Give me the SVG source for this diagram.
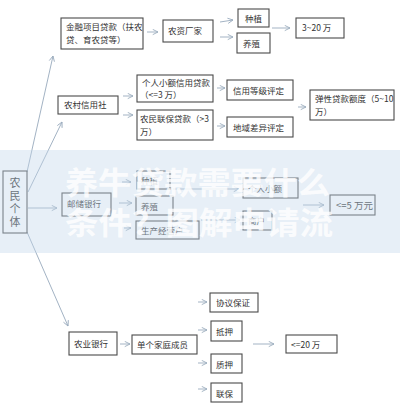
<svg xmlns="http://www.w3.org/2000/svg" width="400" height="404" viewBox="0 0 400 404">
<defs>
<marker id="ah" viewBox="0 0 8 8" refX="7" refY="4" markerWidth="7" markerHeight="7" markerUnits="userSpaceOnUse" orient="auto">
<path d="M1,1 L7,4 L1,7" fill="none" stroke="#9aabbd" stroke-width="1"/>
</marker>
</defs>
<style>
.n rect{fill:#fff;stroke:#4a4a4a;stroke-width:1.1}
.n text{font-family:"Noto Sans CJK SC","Liberation Sans",sans-serif;font-size:8.5px;fill:#333}
.c line{stroke:#a3b3c4;stroke-width:1;fill:none;marker-end:url(#ah)}
.wm{font-family:"Noto Sans CJK SC",sans-serif;font-weight:bold;font-size:31px;fill:#fff;opacity:0.8}
</style>
<rect width="400" height="404" fill="#fff"/>
<g class="c">
<line x1="27" y1="172" x2="53" y2="56"/>
<line x1="28" y1="192" x2="62" y2="122"/>
<line x1="28" y1="208" x2="57" y2="208"/>
<line x1="27" y1="232" x2="68" y2="326"/>
<line x1="147" y1="32" x2="158" y2="32"/>
<line x1="220" y1="22" x2="233" y2="20"/>
<line x1="220" y1="37" x2="233" y2="37"/>
<line x1="272" y1="28" x2="290" y2="28"/>
<line x1="123" y1="96" x2="133" y2="96"/>
<line x1="123" y1="115" x2="133" y2="115"/>
<line x1="217" y1="88" x2="225" y2="88"/>
<line x1="217" y1="126" x2="225" y2="126"/>
<line x1="298" y1="107" x2="306" y2="107"/>
<line x1="122" y1="182" x2="131" y2="182"/>
<line x1="119" y1="203" x2="132" y2="203"/>
<line x1="124" y1="228" x2="131" y2="228"/>
<line x1="173" y1="189" x2="239" y2="189"/>
<line x1="201" y1="220" x2="240" y2="220"/>
<line x1="303" y1="205" x2="324" y2="205"/>
<line x1="120" y1="344" x2="130" y2="344"/>
<line x1="198" y1="302" x2="207" y2="302"/>
<line x1="198" y1="330" x2="207" y2="330"/>
<line x1="198" y1="363" x2="207" y2="363"/>
<line x1="198" y1="389" x2="207" y2="389"/>
<line x1="253" y1="344" x2="274" y2="344"/>
</g>
<g id="n-farmer" class="n"><rect x="3" y="171" width="24" height="62"/>
<text x="15" y="187" text-anchor="middle" style="font-size:11px">农</text>
<text x="15" y="200" text-anchor="middle" style="font-size:11px">民</text>
<text x="15" y="213" text-anchor="middle" style="font-size:11px">个</text>
<text x="15" y="226" text-anchor="middle" style="font-size:11px">体</text></g>
<g id="n-jinrong" class="n"><rect x="61" y="18" width="82" height="31"/><text x="66" y="30">金融项目贷款（扶农</text><text x="66" y="43">贷、育农贷等）</text></g>
<g id="n-nongzi" class="n"><rect x="163" y="20" width="50" height="22"/><text x="168" y="34">农资厂家</text></g>
<g id="n-zhongzhi" class="n"><rect x="238" y="9" width="31" height="18"/><text x="245" y="22">种植</text></g>
<g id="n-yangzhi" class="n"><rect x="237" y="33" width="33" height="20"/><text x="243" y="47">养殖</text></g>
<g id="n-3-20" class="n"><rect x="296" y="18" width="48" height="20"/><text x="302" y="31">3~20 万</text></g>
<g id="n-xinyongshe" class="n"><rect x="58" y="96" width="60" height="18"/><text x="64" y="108">农村信用社</text></g>
<g id="n-geren" class="n"><rect x="137" y="75" width="76" height="27"/><text x="142" y="86">个人小额信用贷款</text><text x="140" y="98">（&lt;=3 万）</text></g>
<g id="n-lianbao" class="n"><rect x="137" y="110" width="76" height="30"/><text x="140" y="122">农民联保贷款（&gt;3</text><text x="140" y="135">万）</text></g>
<g id="n-xinyongdengji" class="n"><rect x="227" y="80" width="66" height="20"/><text x="233" y="94">信用等级评定</text></g>
<g id="n-diyu" class="n"><rect x="227" y="117" width="66" height="20"/><text x="233" y="131">地域差异评定</text></g>
<g id="n-tanxing" class="n"><rect x="310" y="90" width="84" height="30"/><text x="315" y="102">弹性贷款额度（5~10</text><text x="315" y="115">万）</text></g>
<g id="n-youchu" class="n"><rect x="62" y="193" width="49" height="23"/><text x="67" y="207">邮储银行</text></g>
<g id="n-yc-zhongzhi" class="n"><rect x="137" y="171" width="33" height="18"/><text x="141" y="184">种植</text></g>
<g id="n-yc-yangzhi" class="n"><rect x="136" y="196" width="37" height="19"/><text x="141" y="210">养殖</text></g>
<g id="n-yc-shengchan" class="n"><rect x="136" y="221" width="63" height="18"/><text x="141" y="234">生产经营户</text></g>
<g id="n-yc-geren" class="n"><rect x="243" y="178" width="55" height="20"/><text x="248" y="192">个人小额</text></g>
<g id="n-yc-shanghu" class="n"><rect x="243" y="211" width="29" height="19"/><text x="248" y="224">商户</text></g>
<g id="n-5wan" class="n"><rect x="330" y="195" width="45" height="20"/><text x="336" y="209" style="font-size:9.5px">&lt;=5 万元</text></g>
<g id="n-nongye" class="n"><rect x="69" y="332" width="48" height="23"/><text x="74" y="347">农业银行</text></g>
<g id="n-danren" class="n"><rect x="132" y="335" width="65" height="19"/><text x="137" y="348">单个家庭成员</text></g>
<g id="n-xieyi" class="n"><rect x="210" y="293" width="48" height="19"/><text x="216" y="306">协议保证</text></g>
<g id="n-diya" class="n"><rect x="211" y="321" width="31" height="20"/><text x="216" y="335">抵押</text></g>
<g id="n-zhiya" class="n"><rect x="211" y="354" width="31" height="19"/><text x="216" y="368">质押</text></g>
<g id="n-lianbao2" class="n"><rect x="211" y="383" width="31" height="19"/><text x="216" y="397">联保</text></g>
<g id="n-20wan" class="n"><rect x="286" y="335" width="51" height="18"/><text x="291" y="348">&lt;=20 万</text></g>
<rect x="0" y="150" width="400" height="103" fill="#c4d8ec" opacity="0.4"/>
<text class="wm" x="65" y="194" textLength="265" lengthAdjust="spacingAndGlyphs">养牛贷款需要什么</text>
<text class="wm" x="65" y="234" textLength="268" lengthAdjust="spacingAndGlyphs">条件？图解申请流</text>
</svg>
